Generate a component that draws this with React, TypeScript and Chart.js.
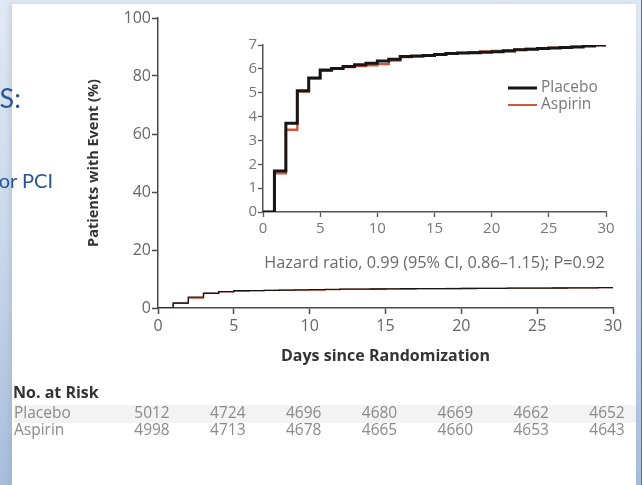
import React, { useEffect, useRef } from "react";
import { Chart, registerables } from "chart.js";

Chart.register(...registerables);

// ---- data ----
const days = [0, 1, 2, 3, 4, 5, 6, 7, 8, 9, 10, 11, 12, 13, 14, 15, 16, 17, 18, 19, 20, 21, 22, 23, 24, 25, 26, 27, 28, 29, 30];
const placebo = [0, 1.72, 3.72, 5.08, 5.62, 5.95, 6.02, 6.1, 6.17, 6.24, 6.33, 6.4, 6.52, 6.54, 6.56, 6.6, 6.64, 6.66, 6.68, 6.7, 6.72, 6.75, 6.8, 6.82, 6.85, 6.87, 6.9, 6.92, 6.96, 7.0, 7.04];
const aspirin = [0, 1.62, 3.45, 5.05, 5.6, 5.92, 6.0, 6.08, 6.12, 6.15, 6.2, 6.35, 6.5, 6.53, 6.56, 6.6, 6.64, 6.67, 6.7, 6.73, 6.75, 6.78, 6.8, 6.83, 6.86, 6.88, 6.9, 6.93, 6.97, 7.0, 7.05];
const riskDays = [0, 5, 10, 15, 20, 25, 30];
const riskPlacebo = [5012, 4724, 4696, 4680, 4669, 4662, 4652];
const riskAspirin = [4998, 4713, 4678, 4665, 4660, 4653, 4643];
const seriesNames = ["Placebo", "Aspirin"];
const hazardText = "Hazard ratio, 0.99 (95% CI, 0.86\u20131.15); P=0.92";
const yTitle = "Patients with Event (%)";
const xTitle = "Days since Randomization";
const riskTitle = "No. at Risk";

const FONT = "'Open Sans', sans-serif";
const BLACK = "#161616";
const RED = "#d8553c";
const AXIS = "#4a4a4a";

const toPts = (vals: number[]) => days.map((d, i) => ({ x: d, y: vals[i] }));

const riskPlugin = {
  id: "riskTable",
  afterDraw(chart: any) {
    const ctx = chart.ctx;
    const xs = chart.scales.x;
    ctx.save();
    ctx.fillStyle = "#f3f3f3";
    ctx.fillRect(14, 405, 622, 18);
    ctx.textBaseline = "middle";
    ctx.textAlign = "left";
    ctx.font = `bold 16px ${FONT}`;
    ctx.fillStyle = "#333";
    ctx.fillText(riskTitle, 13, 393);
    ctx.font = `15.5px ${FONT}`;
    ctx.fillStyle = "#8a8a8a";
    ctx.fillText(seriesNames[0], 14, 414);
    ctx.fillText(seriesNames[1], 14, 431);
    ctx.textAlign = "center";
    riskDays.forEach((d, i) => {
      const px = xs.getPixelForValue(d) - 6;
      ctx.fillText(String(riskPlacebo[i]), px, 414);
      ctx.fillText(String(riskAspirin[i]), px, 431);
    });
    ctx.restore();
  },
};

const insetPlugin = {
  id: "insetExtras",
  afterDraw(chart: any) {
    const ctx = chart.ctx;
    const area = chart.chartArea;
    ctx.save();
    // legend
    const lx = area.right - 98;
    const ly = area.top + 43;
    ctx.lineWidth = 3;
    ctx.strokeStyle = BLACK;
    ctx.beginPath();
    ctx.moveTo(lx, ly);
    ctx.lineTo(lx + 29, ly);
    ctx.stroke();
    ctx.lineWidth = 2;
    ctx.strokeStyle = RED;
    ctx.beginPath();
    ctx.moveTo(lx, ly + 17);
    ctx.lineTo(lx + 29, ly + 17);
    ctx.stroke();
    ctx.font = `15.5px ${FONT}`;
    ctx.fillStyle = "#777";
    ctx.textAlign = "left";
    ctx.textBaseline = "middle";
    ctx.fillText(seriesNames[0], lx + 33, ly);
    ctx.fillText(seriesNames[1], lx + 33, ly + 17);
    // hazard text
    ctx.textAlign = "center";
    ctx.fillStyle = "#6a6a6a";
    ctx.font = `16.3px ${FONT}`;
    ctx.fillText(hazardText, (area.left + area.right) / 2, 263);
    ctx.restore();
  },
};

export default function App() {
  const mainRef = useRef<HTMLCanvasElement>(null);
  const insetRef = useRef<HTMLCanvasElement>(null);

  useEffect(() => {
    const mainChart = new Chart(mainRef.current!, {
      type: "line",
      data: {
        datasets: [
          { label: seriesNames[0], data: toPts(placebo), borderColor: BLACK, borderWidth: 1.3, stepped: true, pointRadius: 0, fill: false },
          { label: seriesNames[1], data: toPts(aspirin), borderColor: RED, borderWidth: 1.3, stepped: true, pointRadius: 0, fill: false },
        ],
      },
      options: {
        responsive: false,
        animation: false,
        layout: { padding: { left: 83, right: 29, top: 18, bottom: 119 } },
        plugins: { legend: { display: false }, tooltip: { enabled: false } },
        events: [],
        scales: {
          x: {
            type: "linear",
            min: 0,
            max: 30,
            afterFit: (s: any) => { s.height = 58; },
            ticks: { stepSize: 5, color: "#666", font: { family: FONT, size: 16 }, padding: 3, maxRotation: 0 },
            grid: { display: true, drawOnChartArea: false, drawTicks: true, tickLength: 6, tickColor: AXIS, tickWidth: 1.5 },
            border: { color: AXIS, width: 1.5 },
            title: { display: true, text: xTitle, color: "#333", font: { family: FONT, size: 16, weight: "bold" }, padding: { top: 0, bottom: 0 } },
          },
          y: {
            min: 0,
            max: 100,
            afterFit: (s: any) => { s.width = 75; },
            ticks: { stepSize: 20, color: "#666", font: { family: FONT, size: 16 }, padding: 1 },
            grid: { display: true, drawOnChartArea: false, drawTicks: true, tickLength: 6, tickColor: AXIS, tickWidth: 1.5 },
            border: { color: AXIS, width: 1.5 },
            title: { display: true, text: yTitle, color: "#333", font: { family: FONT, size: 14.5, weight: "bold" }, padding: { top: 2, bottom: 0 } },
          },
        },
      },
      plugins: [riskPlugin],
    } as any);

    const insetChart = new Chart(insetRef.current!, {
      type: "line",
      data: {
        datasets: [
          { label: seriesNames[0], data: toPts(placebo), borderColor: BLACK, borderWidth: 3, stepped: true, pointRadius: 0, fill: false },
          { label: seriesNames[1], data: toPts(aspirin), borderColor: RED, borderWidth: 2.4, stepped: true, pointRadius: 0, fill: false },
        ],
      },
      options: {
        responsive: false,
        animation: false,
        layout: { padding: { left: 243, right: 36, top: 45, bottom: 243 } },
        plugins: { legend: { display: false }, tooltip: { enabled: false } },
        events: [],
        scales: {
          x: {
            type: "linear",
            min: 0,
            max: 30,
            afterFit: (s: any) => { s.height = 30; },
            ticks: { stepSize: 5, color: "#777", font: { family: FONT, size: 15 }, padding: 3, maxRotation: 0 },
            grid: { display: true, drawOnChartArea: false, drawTicks: true, tickLength: 5, tickColor: "#555", tickWidth: 1.3 },
            border: { color: "#555", width: 1.5 },
          },
          y: {
            min: 0,
            max: 7,
            afterFit: (s: any) => { s.width = 20; },
            ticks: { stepSize: 1, color: "#777", font: { family: FONT, size: 15 }, padding: 1 },
            grid: { display: true, drawOnChartArea: false, drawTicks: true, tickLength: 5, tickColor: "#555", tickWidth: 1.3 },
            border: { color: "#555", width: 1.5 },
          },
        },
      },
      plugins: [insetPlugin],
    } as any);

    return () => {
      mainChart.destroy();
      insetChart.destroy();
    };
  }, []);

  return (
    <div
      style={{
        position: "fixed",
        left: 0,
        top: 0,
        width: 642,
        height: 485,
        overflow: "hidden",
        background: "linear-gradient(180deg, #e1e9f4 0%, #c9d8ec 50%, #a6bedd 100%)",
      }}
    >
      <div style={{ position: "absolute", left: 12, top: 4, width: 624, height: 481, background: "#fff", boxShadow: "-2px 0 6px rgba(120,130,150,0.25)" }} />
      <div style={{ position: "absolute", left: 641, top: 0, width: 1, height: 485, background: "#5c6f8c" }} />
      <canvas ref={mainRef} width={642} height={485} style={{ position: "absolute", left: 0, top: 0, display: "block" }} />
      <canvas ref={insetRef} width={642} height={485} style={{ position: "absolute", left: 0, top: 0, display: "block" }} />
      <div style={{ position: "absolute", right: 621, top: 80, whiteSpace: "nowrap", color: "#2a5690", fontFamily: "Lato, sans-serif", fontSize: 27, lineHeight: "36px" }}>
        RESULTS:
      </div>
      <div style={{ position: "absolute", right: 589, top: 166, whiteSpace: "nowrap", color: "#2a5690", fontFamily: "Lato, sans-serif", fontSize: 20, lineHeight: "28px" }}>
        for PCI
      </div>
    </div>
  );
}
